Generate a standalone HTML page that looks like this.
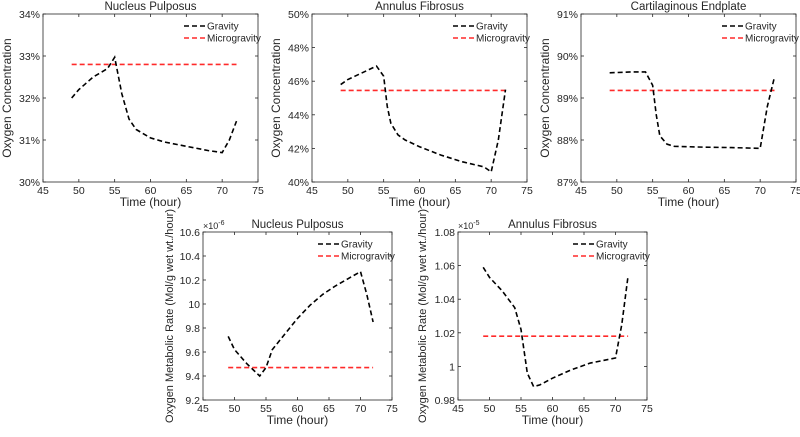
<!DOCTYPE html>
<html><head><meta charset="utf-8"><style>
body{margin:0;background:#fff;font-family:"Liberation Sans",Arial,sans-serif}
svg text{font-family:"Liberation Sans",Arial,sans-serif;fill:#262626}
</style></head><body>
<svg id="fig" width="800" height="432" xmlns="http://www.w3.org/2000/svg"></svg>
<script>
// Panel 1: Nucleus Pulposus concentration
const npConcX=[49,50,51,52,53,54,55,56,57,58,60,62,65,68,70,71,72];
const npConcY=[32.0,32.2,32.35,32.5,32.6,32.7,32.97,32.1,31.5,31.25,31.05,30.95,30.85,30.75,30.7,31.0,31.45];
const npConcMicro=32.8;
const npConcTicks=[30,31,32,33,34];
// Panel 2: Annulus Fibrosus concentration
const afConcX=[49,50,52,54,55,55.5,56,57,58,60,63,66,69,70,71,72];
const afConcY=[45.8,46.1,46.5,46.9,46.3,44.5,43.5,42.8,42.5,42.1,41.6,41.2,40.9,40.6,42.5,45.5];
const afConcMicro=45.45;
const afConcTicks=[40,42,44,46,48,50];
// Panel 3: Cartilaginous Endplate concentration
const ceConcX=[49,52,54,55,55.5,56,57,58,62,66,70,71,72];
const ceConcY=[89.6,89.62,89.62,89.3,88.6,88.1,87.9,87.85,87.83,87.82,87.8,88.8,89.5];
const ceConcMicro=89.18;
const ceConcTicks=[87,88,89,90,91];
// Panel 4: NP metabolic rate (x1e-6)
const npRateX=[49,50,52,53,54,55,56,58,60,62,64,66,68,70,71,72];
const npRateY=[9.73,9.62,9.5,9.45,9.4,9.47,9.62,9.75,9.88,9.99,10.08,10.15,10.21,10.27,10.08,9.85];
const npRateMicro=9.47;
const npRateTicks=[9.2,9.4,9.6,9.8,10,10.2,10.4,10.6];
// Panel 5: AF metabolic rate (x1e-5)
const afRateX=[49,50,52,54,55,56,57,58,60,63,66,70,71,72];
const afRateY=[1.059,1.053,1.045,1.035,1.022,0.996,0.988,0.989,0.993,0.998,1.002,1.005,1.025,1.054];
const afRateMicro=1.018;
const afRateTicks=[0.98,1,1.02,1.04,1.06,1.08];
const xTicks=[45,50,55,60,65,70,75];

const NS="http://www.w3.org/2000/svg";
const svg=document.getElementById('fig');
function mk(tag,attrs,parent){const e=document.createElementNS(NS,tag);for(const k in attrs)e.setAttribute(k,attrs[k]);(parent||svg).appendChild(e);return e;}

function panel(o){
  const g=mk('g',{});
  
  
  const L=o.l,R=o.r,T=o.t,B=o.b;
  const ymin=o.ticks[0],ymax=o.ticks[o.ticks.length-1];
  const sx=v=>L+(v-45)/30*(R-L);
  const sy=v=>B-(v-ymin)/(ymax-ymin)*(B-T);
  const box=mk('rect',{x:L,y:T,width:R-L,height:B-T,fill:'#fff',stroke:'#262626','stroke-width':0.8},g);
  
  
  xTicks.forEach(v=>{
    const x=sx(v);
    mk('line',{x1:x,x2:x,y1:B,y2:B-3,stroke:'#262626','stroke-width':0.8},g);
    mk('line',{x1:x,x2:x,y1:T,y2:T+3,stroke:'#262626','stroke-width':0.8},g);
    const t=mk('text',{x:x,y:B+12,'font-size':10.5,'text-anchor':'middle'},g);t.textContent=v;
    
    
  });
  o.ticks.forEach(v=>{
    const y=sy(v);
    mk('line',{x1:L,x2:L+3,y1:y,y2:y,stroke:'#262626','stroke-width':0.8},g);
    mk('line',{x1:R,x2:R-3,y1:y,y2:y,stroke:'#262626','stroke-width':0.8},g);
    const t=mk('text',{x:L-3,y:y+4,'font-size':10.5,'text-anchor':'end'},g);t.textContent=o.fmt(v);
    
    
  });
  const tt=mk('text',{x:(L+R)/2,y:T-4,'font-size':11.5,'text-anchor':'middle'},g);tt.textContent=o.title;
  
  
  const xl=mk('text',{x:(L+R)/2,y:B+24,'font-size':12,'text-anchor':'middle'},g);xl.textContent='Time (hour)';
  
  
  const yl=mk('text',{x:0,y:0,'font-size':o.ylfs||12,'text-anchor':'middle',transform:`translate(${L-o.yoff},${(T+B)/2}) rotate(-90)`},g);yl.textContent=o.ylabel;
  
  
  if(o.exp){const e=mk('text',{x:L,y:T-3,'font-size':9},g);e.textContent='×10';const s=mk('tspan',{'font-size':7,dy:-4},e);s.textContent=o.exp;
    
    }
  const mic=mk('line',{x1:sx(49),x2:sx(72),y1:sy(o.micro),y2:sy(o.micro),stroke:'#ff2a2a','stroke-width':1.6,'stroke-dasharray':'5,3'},g);
  
  
  const pts=o.x.map((v,i)=>sx(v)+','+sy(o.y[i])).join(' ');
  const gl=mk('polyline',{points:pts,fill:'none',stroke:'#000','stroke-width':1.6,'stroke-dasharray':'5,3'},g);
  
  
  const lx=R-74,ly=T+12;
  [['Gravity','#000'],['Microgravity','#ff2a2a']].forEach((d,i)=>{
    const lg=mk('g',{},g);
    
    
    mk('line',{x1:lx,x2:lx+22,y1:ly+i*12,y2:ly+i*12,stroke:d[1],'stroke-width':1.6,'stroke-dasharray':'5,3'},lg);
    const t=mk('text',{x:lx+23,y:ly+i*12+3.5,'font-size':10},lg);t.textContent=d[0];
  });
}
const pct=v=>v+'%';
panel({name:'np-concentration-chart',l:43,r:258,t:14,b:182,ticks:npConcTicks,fmt:pct,title:'Nucleus Pulposus',ylabel:'Oxygen Concentration',yoff:32,x:npConcX,y:npConcY,micro:npConcMicro});
panel({name:'af-concentration-chart',l:312,r:527,t:14,b:182,ticks:afConcTicks,fmt:pct,title:'Annulus Fibrosus',ylabel:'Oxygen Concentration',yoff:32,x:afConcX,y:afConcY,micro:afConcMicro});
panel({name:'ce-concentration-chart',l:581,r:796,t:14,b:182,ticks:ceConcTicks,fmt:pct,title:'Cartilaginous Endplate',ylabel:'Oxygen Concentration',yoff:32,x:ceConcX,y:ceConcY,micro:ceConcMicro});
panel({name:'np-metabolic-rate-chart',l:203,r:392,t:232,b:400,ticks:npRateTicks,fmt:v=>String(v),title:'Nucleus Pulposus',ylabel:'Oxygen Metabolic Rate (Mol/g wet wt./hour)',ylfs:11,yoff:30,exp:'-6',x:npRateX,y:npRateY,micro:npRateMicro});
panel({name:'af-metabolic-rate-chart',l:458,r:647,t:232,b:400,ticks:afRateTicks,fmt:v=>String(v),title:'Annulus Fibrosus',ylabel:'Oxygen Metabolic Rate (Mol/g wet wt./hour)',ylfs:11,yoff:32,exp:'-5',x:afRateX,y:afRateY,micro:afRateMicro});
</script>
</body></html>
